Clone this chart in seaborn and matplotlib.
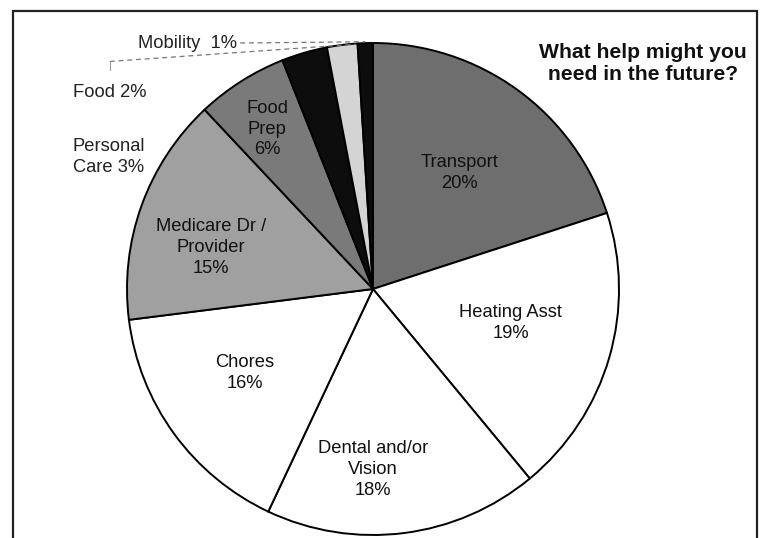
import numpy as np
import matplotlib
matplotlib.use("Agg")
import matplotlib.pyplot as plt
from matplotlib.patches import Rectangle
import seaborn as sns

sns.set_theme(style="white")
plt.rcParams["font.family"] = ["Liberation Sans", "DejaVu Sans"]

# Daten (im Uhrzeigersinn ab 12 Uhr)
categories = ["Transport", "Heating Asst", "Dental and/or\nVision", "Chores",
              "Medicare Dr /\nProvider", "Food\nPrep", "Personal\nCare", "Food", "Mobility"]
shares = [20, 19, 18, 16, 15, 6, 3, 2, 1]
slice_colors = ["#6e6e6e", "#ffffff", "#ffffff", "#ffffff",
                "#a0a0a0", "#7a7a7a", "#0d0d0d", "#d4d4d4", "#0d0d0d"]

# Beschriftungspositionen (innen)
inner_pos = {
    "Transport": (0.35, 0.47),
    "Heating Asst": (0.56, -0.14),
    "Dental and/or\nVision": (0.0, -0.735),
    "Chores": (-0.52, -0.34),
    "Medicare Dr /\nProvider": (-0.66, 0.17),
    "Food\nPrep": (-0.43, 0.65),
}
# aussen, linksbündig
outer_pos = {
    "Mobility": (-0.955, 1.0),
    "Food": (-1.22, 0.797),
    "Personal\nCare": (-1.22, 0.537),
}

fig = plt.figure(figsize=(7.6, 5.38), dpi=100)
W, H = 760, 538
cx, cy, r = 373, 289, 246
ax = fig.add_axes([(cx - r) / W, (H - cy - r) / H, 2 * r / W, 2 * r / H])

wedges, _ = ax.pie(
    shares,
    colors=slice_colors,
    startangle=90,
    counterclock=False,
    radius=1.0,
    wedgeprops=dict(edgecolor="black", linewidth=1.4),
)
ax.set_xlim(-1, 1)
ax.set_ylim(-1, 1)
ax.set_aspect("equal")
ax.axis("off")

for cat, val in zip(categories, shares):
    if cat in inner_pos:
        x, y = inner_pos[cat]
        ax.text(x, y, f"{cat}\n{val}%", ha="center", va="center",
                fontsize=13.2, color="#111111", linespacing=1.3)
    else:
        x, y = outer_pos[cat]
        txt = f"{cat} {val}%"
        if cat == "Mobility":
            txt = f"{cat}  {val}%"
        ax.text(x, y, txt, ha="left", va="center", fontsize=13.2,
                color="#222222", linespacing=1.3, clip_on=False)

# gestrichelte Hinweislinien
ax.plot([-0.54, -0.03], [1.0, 1.005], ls=(0, (4, 3)), lw=0.9, color="#777777", clip_on=False)
ax.plot([-1.07, -0.07], [0.925, 0.995], ls=(0, (4, 3)), lw=0.9, color="#777777", clip_on=False)
ax.plot([-1.07, -1.07], [0.925, 0.89], lw=0.8, color="#999999", clip_on=False)

fig.text(643 / W, 1 - 64 / H, "What help might you\nneed in the future?",
         ha="center", va="center", fontsize=15.2, fontweight="bold",
         color="#111111", linespacing=1.2)

# Rahmen
fig.patches.append(Rectangle((13 / W, -0.02), (757 - 13) / W, 1 - 11 / H + 0.02,
                             transform=fig.transFigure, fill=False,
                             edgecolor="#222222", linewidth=1.6))

fig.savefig("out.png", dpi=100)
plt.close(fig)
